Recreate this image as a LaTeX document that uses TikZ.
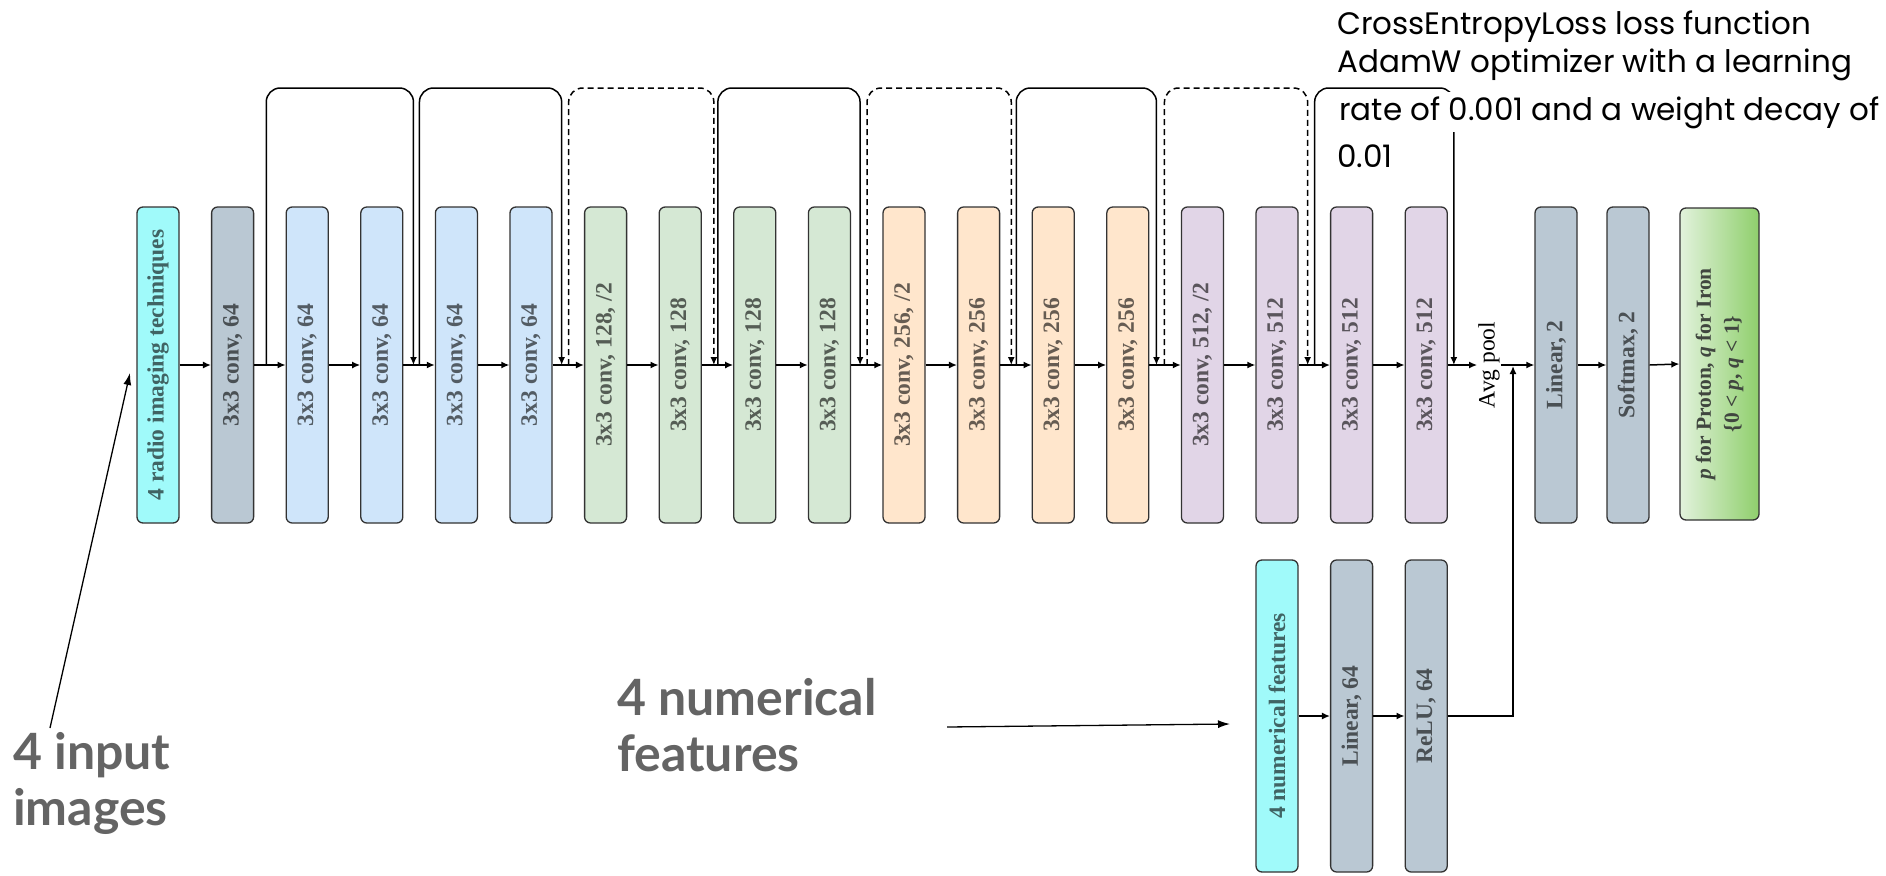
\documentclass[tikz,border=0pt]{standalone}
\usepackage{fontspec}
\setmainfont{Liberation Serif}
\newfontfamily\notefont{Poppins}
\newfontfamily\callfont{Lato}
\usetikzlibrary{arrows.meta}

\definecolor{cyanfill}{HTML}{A0FAFA}
\definecolor{grayfill}{HTML}{BAC8D3}
\definecolor{bluefill}{HTML}{CFE5FA}
\definecolor{greenfill}{HTML}{D5E8D4}
\definecolor{orangefill}{HTML}{FFE6CC}
\definecolor{purplefill}{HTML}{E1D5E7}
\definecolor{outleft}{HTML}{E2F2DC}
\definecolor{outright}{HTML}{8FCF6C}
\definecolor{calloutgray}{HTML}{646464}

\begin{document}
\begin{tikzpicture}[x=1pt,y=-1pt,
  layer/.style={draw=black!80, line width=1.3pt, rounded corners=6pt,
    minimum width=42pt, minimum height=316pt, inner sep=0pt},
  vtext/.style={rotate=90, inner sep=0pt, align=center,
    font=\bfseries\fontsize{23.5}{27}\selectfont},
  flow/.style={line width=1.5pt, -{Latex[length=8pt,width=7pt]}},
  skiparc/.style={line width=1.5pt, rounded corners=14pt, -{Latex[length=8pt,width=7pt]}},
  skipdash/.style={skiparc, dash pattern=on 6pt off 4pt},
  note/.style={font=\notefont\fontsize{31}{36}\selectfont, inner sep=0pt, anchor=base west},
  callout/.style={font=\callfont\bfseries\fontsize{50}{56}\selectfont, text=calloutgray,
    inner sep=0pt, anchor=base west, align=left},
  pointer/.style={line width=1.3pt, -{Latex[length=12pt,width=8pt]}}]

\useasboundingbox[fill=white] (0,0) rectangle (1886,875);

% main convolution column
\foreach \i/\c/\t in {
  0/cyanfill/{4 radio imaging techniques},
  1/grayfill/{3x3 conv, 64},
  2/bluefill/{3x3 conv, 64},
  3/bluefill/{3x3 conv, 64},
  4/bluefill/{3x3 conv, 64},
  5/bluefill/{3x3 conv, 64},
  6/greenfill/{3x3 conv, 128, /2},
  7/greenfill/{3x3 conv, 128},
  8/greenfill/{3x3 conv, 128},
  9/greenfill/{3x3 conv, 128},
  10/orangefill/{3x3 conv, 256, /2},
  11/orangefill/{3x3 conv, 256},
  12/orangefill/{3x3 conv, 256},
  13/orangefill/{3x3 conv, 256},
  14/purplefill/{3x3 conv, 512, /2},
  15/purplefill/{3x3 conv, 512},
  16/purplefill/{3x3 conv, 512},
  17/purplefill/{3x3 conv, 512}}
  \node[layer, fill=\c, label={[vtext, text=\c!40!black]center:{\t}}] (b\i) at ({158+74.6*\i},365) {};

\foreach \i [evaluate=\i as \j using int(\i+1)] in {0,...,16}
  \draw[flow] (b\i.east) -- (b\j.west);

% head
\node[rotate=90, font=\fontsize{23.5}{28}\selectfont, inner sep=1pt] (avg) at (1489,365) {Avg pool};
\node[layer, fill=grayfill, label={[vtext, text=grayfill!40!black]center:{Linear, 2}}] (lin2) at (1556,365) {};
\node[layer, fill=grayfill, label={[vtext, text=grayfill!40!black]center:{Softmax, 2}}] (soft) at (1628,365) {};
\node[layer, minimum width=79pt, minimum height=312pt, left color=outleft, right color=outright] (out) at (1719.5,364) {};
\node[vtext, text=greenfill!30!black, font=\bfseries\fontsize{21.5}{28}\selectfont] (outtxt) at ([yshift=-10pt]out.center)
  {\textit{p} for Proton, \textit{q} for Iron\\ \{0 < \textit{p}, \textit{q} < 1\}};

\draw[flow] (b17.east) -- (avg.north);
\draw[flow] (avg.south) -- (lin2.west);
\draw[flow] (lin2.east) -- (soft.west);
\draw[flow] (soft.east) -- (out.west);

% numerical branch
\node[layer, minimum height=312pt, fill=cyanfill, label={[vtext, text=cyanfill!40!black]center:{4 numerical features}}] (nf) at (1277,716) {};
\node[layer, minimum height=312pt, fill=grayfill, label={[vtext, text=grayfill!40!black]center:{Linear, 64}}] (l64) at (1351.6,716) {};
\node[layer, minimum height=312pt, fill=grayfill, label={[vtext, text=grayfill!40!black]center:{ReLU, 64}}] (relu) at (1426.2,716) {};
\coordinate (merge) at (1513,366);
\draw[flow] (nf.east) -- (l64.west);
\draw[flow] (l64.east) -- (relu.west);
\draw[flow] (relu.east) -| (merge);

% shortcut connections
\coordinate (top) at (0,88);
\foreach \a/\sa/\b/\sb in {1/12/3/10, 3/16/5/9, 7/16/9/9, 11/16/13/7, 15/16/17/6}
  \draw[skiparc] ([xshift=\sa pt]b\a.east) -- ([xshift=\sa pt]b\a.east |- top)
    -- ([xshift=\sb pt]b\b.east |- top) -- ([xshift=\sb pt]b\b.east);
\foreach \a/\sa/\b/\sb in {5/16/7/12, 9/16/11/11, 13/15/15/9}
  \draw[skipdash] ([xshift=\sa pt]b\a.east) -- ([xshift=\sa pt]b\a.east |- top)
    -- ([xshift=\sb pt]b\b.east |- top) -- ([xshift=\sb pt]b\b.east);

% training notes
\node[note] (lossln) at (1337,35) {CrossEntropyLoss loss function};
\node[note] (optln) at (1337,72) {AdamW optimizer with a learning};
\node[note, fill=white, inner ysep=4pt, inner xsep=2pt] (rateln) at (1337,120) {rate of 0.001 and a weight decay of};
\node[note] (decayln) at (1337,167) {0.01};

% input callouts
\node[callout] (imglbl) at (13,825) {4 input\\images};
\node[callout] (numlbl) at (617,771) {4 numerical\\features};
\coordinate (imgfoot) at (50,728);
\coordinate (imgtip) at (130,373);
\coordinate (numfoot) at (947,727);
\coordinate (numtip) at (1230,724);
\draw[pointer] (imgfoot) -- (imgtip);
\draw[pointer] (numfoot) -- (numtip);
\end{tikzpicture}
\end{document}
